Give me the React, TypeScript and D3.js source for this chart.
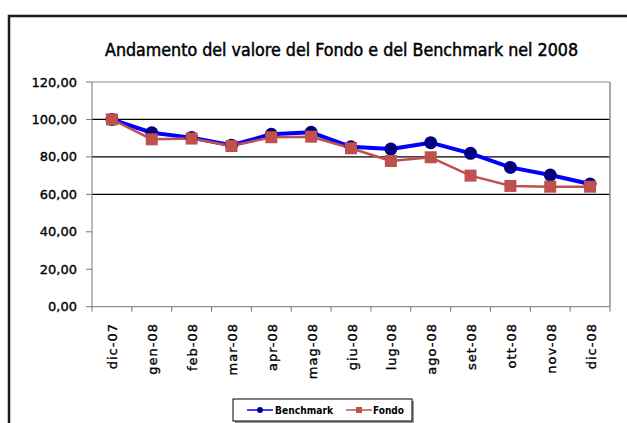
import React from "react";
import * as d3 from "d3";

const mesi = ["dic-07", "gen-08", "feb-08", "mar-08", "apr-08", "mag-08", "giu-08", "lug-08", "ago-08", "set-08", "ott-08", "nov-08", "dic-08"];
const benchmark = [100.0, 92.9, 90.3, 86.2, 92.1, 93.1, 85.4, 84.2, 87.6, 81.9, 74.4, 70.3, 65.5];
const fondo = [100.0, 89.4, 89.8, 85.8, 90.5, 90.8, 84.6, 77.8, 79.8, 70.0, 64.5, 64.1, 64.1];
const yTicks = [0, 20, 40, 60, 80, 100, 120];
const gridValues = [60, 80, 100];

const W = 627;
const H = 423;
const plot = { left: 92, right: 610, top: 82, bottom: 306.7 };

const fmt = (v: number) => d3.format(".2f")(v).replace(".", ",");

export default function App() {
  const x = d3.scaleBand<string>().domain(mesi).range([plot.left, plot.right]);
  const y = d3.scaleLinear().domain([0, 120]).range([plot.bottom, plot.top]);
  const cx = (d: string) => (x(d) as number) + x.bandwidth() / 2;

  const line = d3
    .line<number>()
    .x((_, i) => cx(mesi[i]))
    .y((d) => y(d));

  const font = "'DejaVu Sans', sans-serif";
  const condensed = "'DejaVu Sans Condensed', 'DejaVu Sans', sans-serif";

  return (
    <svg
      width={W}
      height={H}
      style={{ position: "absolute", left: 0, top: 0, background: "#fff" }}
    >
      {/* cornice esterna */}
      <rect x={9} y={16} width={W + 20} height={H + 20} fill="#fff" stroke="#1a1a1a" strokeWidth={2.5} />

      <text
        x={341.5}
        y={56}
        textAnchor="middle"
        fontFamily={condensed}
        fontSize={17}
        textLength={473}
        lengthAdjust="spacingAndGlyphs"
        fill="#000"
        stroke="#000"
        strokeWidth={0.45}
      >
        Andamento del valore del Fondo e del Benchmark nel 2008
      </text>

      {/* griglia */}
      {gridValues.map((v) => (
        <line key={v} x1={plot.left} x2={plot.right} y1={y(v)} y2={y(v)} stroke="#000" strokeWidth={1.2} />
      ))}

      {/* bordo area grafico */}
      <line x1={plot.left} x2={plot.right} y1={plot.top} y2={plot.top} stroke="#8c8c8c" strokeWidth={1.2} />
      <line x1={plot.right} x2={plot.right} y1={plot.top} y2={plot.bottom} stroke="#8c8c8c" strokeWidth={1.5} />

      {/* asse y */}
      <line x1={plot.left} x2={plot.left} y1={plot.top} y2={plot.bottom} stroke="#777" strokeWidth={1} />
      {yTicks.map((v) => (
        <g key={v}>
          <line x1={plot.left - 6} x2={plot.left} y1={y(v)} y2={y(v)} stroke="#777" />
          <text
            x={77}
            y={y(v)}
            dy="0.35em"
            textAnchor="end"
            fontFamily={font}
            fontSize={13}
            fill="#000"
            stroke="#000"
            strokeWidth={0.35}
          >
            {fmt(v)}
          </text>
        </g>
      ))}

      {/* asse x */}
      <line x1={plot.left} x2={plot.right} y1={plot.bottom} y2={plot.bottom} stroke="#777" strokeWidth={1} />
      {mesi.concat([""]).map((d, i) => {
        const xx = plot.left + i * x.bandwidth();
        return <line key={"t" + i} x1={xx} x2={xx} y1={plot.bottom} y2={plot.bottom + 5} stroke="#777" />;
      })}
      {mesi.map((d) => (
        <text
          key={d}
          transform={`translate(${cx(d) + 1},323) rotate(-90)`}
          textAnchor="end"
          dominantBaseline="central"
          fontFamily={font}
          fontSize={13}
          letterSpacing={1}
          fill="#000"
          stroke="#000"
          strokeWidth={0.35}
        >
          {d}
        </text>
      ))}

      {/* serie */}
      <path d={line(benchmark) || ""} fill="none" stroke="#0000ff" strokeWidth={4} strokeLinejoin="round" />
      <path d={line(fondo) || ""} fill="none" stroke="#c0504d" strokeWidth={2.5} strokeLinejoin="round" />
      {benchmark.map((v, i) => (
        <circle key={"b" + i} cx={cx(mesi[i])} cy={y(v)} r={6.5} fill="#000080" />
      ))}
      {fondo.map((v, i) => (
        <rect key={"f" + i} x={cx(mesi[i]) - 6} y={y(v) - 6} width={12} height={12} fill="#c0504d" />
      ))}

      {/* legenda */}
      <rect x={235} y={401} width={179} height={22} fill="#999" />
      <rect x={233} y={399} width={179} height={22} fill="#fff" stroke="#000" strokeWidth={1} />
      <line x1={247} x2={273} y1={410} y2={410} stroke="#0000ff" strokeWidth={1.5} />
      <circle cx={260} cy={410} r={3} fill="#000080" />
      <text x={275} y={410} dy="0.35em" fontFamily={condensed} fontWeight="bold" fontSize={11} textLength={58} lengthAdjust="spacingAndGlyphs">
        Benchmark
      </text>
      <line x1={346} x2={372} y1={410} y2={410} stroke="#c0504d" strokeWidth={1.5} />
      <rect x={356} y={407} width={6} height={6} fill="#c0504d" />
      <text x={373} y={410} dy="0.35em" fontFamily={condensed} fontWeight="bold" fontSize={11} textLength={31} lengthAdjust="spacingAndGlyphs">
        Fondo
      </text>
    </svg>
  );
}
